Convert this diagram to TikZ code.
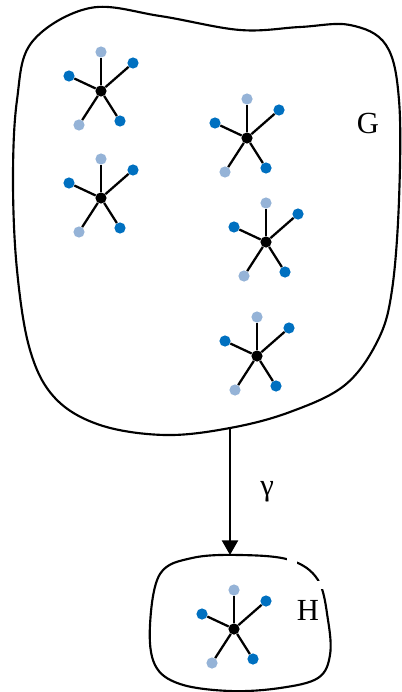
\documentclass[tikz,border=0pt]{standalone}
\usepackage{fontspec}
\setmainfont{Liberation Serif}
\usetikzlibrary{arrows.meta, positioning}
\definecolor{atomdark}{RGB}{0, 112, 192}
\definecolor{atomlight}{RGB}{149, 179, 215}
\tikzset{
  bond/.style={line width=1.7pt, black},
  hubdot/.style={circle, fill=black, inner sep=0pt, minimum size=8.4pt},
  darkdot/.style={circle, fill=atomdark, inner sep=0pt, minimum size=8.4pt},
  lightdot/.style={circle, fill=atomlight, inner sep=0pt, minimum size=8.4pt},
  setline/.style={line width=1.6pt, black},
  maparrow/.style={-{Triangle[length=11pt, width=12pt]}, line width=1.7pt, black},
  setlabel/.style={font=\fontsize{23}{26}\selectfont, inner sep=0pt}
}
% one molecule: hub (#1) at (#2,#3) with five atoms round it
\newcommand{\molecule}[3]{%
  \node[hubdot] (#1) at (#2,#3) {};
  \node[lightdot] (#1-up) at (#2,#3-39) {};
  \node[darkdot] (#1-ne) at (#2+32,#3-28) {};
  \node[darkdot] (#1-w) at (#2-32,#3-15) {};
  \node[lightdot] (#1-sw) at (#2-22,#3+34) {};
  \node[darkdot] (#1-se) at (#2+19,#3+30) {};
  \foreach \leaf in {up,ne,w,sw,se} \draw[bond] (#1) -- (#1-\leaf);
}

\begin{document}
\begin{tikzpicture}[x=0.75pt, y=-0.75pt]
    \useasboundingbox (0,0) rectangle (401,692);

    % set G
    \draw[setline] plot[smooth cycle, tension=0.6] coordinates {
      (13,180) (17,100) (32,42) (90,8) (160,16) (240,30) (300,27) (350,25)
      (386,45) (399,100) (399,200) (392,290) (378,340) (345,385) (290,412)
      (230,428) (165,435) (100,425) (55,398) (30,350) (17,270)};
    \coordinate (gout) at (230,428);
    \node[setlabel] (glabel) at (368,123) {G};

    \molecule{m1}{101}{91}
    \molecule{m2}{247}{138}
    \molecule{m3}{101}{198}
    \molecule{m4}{266}{242}
    \molecule{m5}{257}{356}

    % set H
    \draw[setline] plot[smooth cycle, tension=0.6] coordinates {
      (150,625) (160,574) (192,558) (240,555) (290,560) (318,580) (328,620)
      (330,655) (318,678) (280,688) (230,691) (180,684) (155,665)};
    \fill[white] (287,553) rectangle (297,566);
    \fill[white] (316,581) rectangle (326,589);
    \coordinate (hin) at (230,555);
    \node[setlabel] (hlabel) at (308,610) {H};

    \molecule{h1}{234}{629}

    % the map
    \draw[maparrow] (gout) -- (hin) node[midway, right=22pt, setlabel] {γ};
\end{tikzpicture}
\end{document}
